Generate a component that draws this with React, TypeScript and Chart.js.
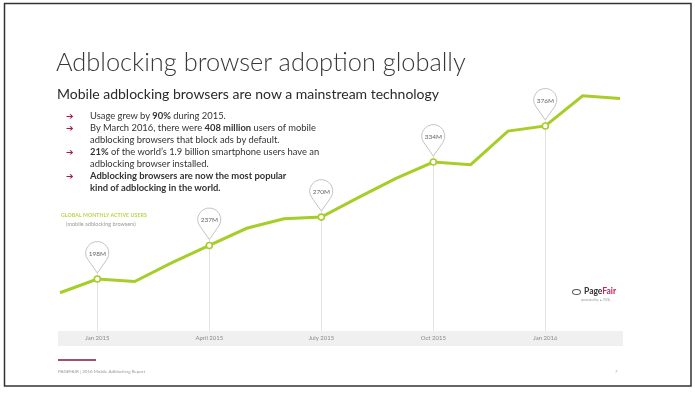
import React, { useEffect, useRef } from "react";
import { Chart, registerables } from "chart.js";

Chart.register(...registerables);

const months = [
  "Dec 2014", "Jan 2015", "Feb 2015", "Mar 2015", "Apr 2015", "May 2015", "Jun 2015",
  "Jul 2015", "Aug 2015", "Sep 2015", "Oct 2015", "Nov 2015", "Dec 2015",
  "Jan 2016", "Feb 2016", "Mar 2016",
];
const usersMillions = [182, 198, 195, 217, 237, 257, 268, 270, 293, 315, 334, 331, 370, 376, 411, 408];
const pinLabels = ["", "198M", "", "", "237M", "", "", "270M", "", "", "334M", "", "", "376M", "", ""];
const tickLabels = ["", "Jan 2015", "", "", "April 2015", "", "", "July 2015", "", "", "Oct 2015", "", "", "Jan 2016", "", ""];

const GREEN = "#a6cd28";
const FONT = "Lato, 'Open Sans', sans-serif";

const slidePlugin = {
  id: "slide",
  beforeDraw(chart: any) {
    const ctx = chart.ctx;
    ctx.save();
    ctx.fillStyle = "#ffffff";
    ctx.fillRect(0, 0, chart.width, chart.height);
    ctx.strokeStyle = "#333";
    ctx.lineWidth = 1.5;
    ctx.strokeRect(4.5, 3.5, 686.5, 382.5);
    ctx.fillStyle = "#f0f0f0";
    ctx.fillRect(58, 331, 565, 15);
    const xs = chart.scales.x;
    const ys = chart.scales.y;
    ctx.strokeStyle = "#e2e2e2";
    ctx.lineWidth = 1;
    pinLabels.forEach((p, i) => {
      if (!p) return;
      const x = Math.round(xs.getPixelForValue(i)) + 0.5;
      const y = ys.getPixelForValue(usersMillions[i]);
      ctx.beginPath();
      ctx.moveTo(x, y - 6);
      ctx.lineTo(x, 331);
      ctx.stroke();
    });
    ctx.fillStyle = "#8a8a8a";
    ctx.font = `6px ${FONT}`;
    ctx.textAlign = "center";
    ctx.textBaseline = "middle";
    tickLabels.forEach((t, i) => {
      if (!t) return;
      ctx.fillText(t, xs.getPixelForValue(i), 338.5);
    });
    ctx.restore();
  },
  afterDatasetsDraw(chart: any) {
    const ctx = chart.ctx;
    const xs = chart.scales.x;
    const ys = chart.scales.y;
    ctx.save();
    const r = 11.5;
    pinLabels.forEach((p, i) => {
      if (!p) return;
      const x = xs.getPixelForValue(i);
      const py = ys.getPixelForValue(usersMillions[i]);
      const cy = py - 26;
      const tipY = py - 6;
      const d = tipY - cy;
      const th = Math.acos(r / d);
      ctx.beginPath();
      ctx.moveTo(x, tipY);
      ctx.lineTo(x + r * Math.cos(Math.PI / 2 - th), cy + r * Math.sin(Math.PI / 2 - th));
      ctx.arc(x, cy, r, Math.PI / 2 - th, Math.PI / 2 + th, true);
      ctx.closePath();
      ctx.fillStyle = "#ffffff";
      ctx.fill();
      ctx.strokeStyle = "#c4c4c4";
      ctx.lineWidth = 1;
      ctx.stroke();
      ctx.fillStyle = "#666";
      ctx.font = `6.5px ${FONT}`;
      ctx.textAlign = "center";
      ctx.textBaseline = "middle";
      ctx.fillText(p, x, cy + 0.5);
    });
    ctx.restore();
  },
};

const bullets: React.ReactNode[] = [
  <>Usage grew by <b>90%</b> during 2015.</>,
  <>By March 2016, there were <b>408 million</b> users of mobile<br />adblocking browsers that block ads by default.</>,
  <><b>21%</b> of the world’s 1.9 billion smartphone users have an<br />adblocking browser installed.</>,
  <><b>Adblocking browsers are now the most popular<br />kind of adblocking in the world.</b></>,
];

export default function App() {
  const ref = useRef<HTMLCanvasElement | null>(null);
  useEffect(() => {
    if (!ref.current) return;
    const chart = new Chart(ref.current, {
      type: "line",
      data: {
        labels: months,
        datasets: [
          {
            data: usersMillions,
            borderColor: GREEN,
            borderWidth: 3,
            tension: 0,
            pointRadius: pinLabels.map((p) => (p ? 3 : 0)),
            pointBackgroundColor: "#ffffff",
            pointBorderColor: GREEN,
            pointBorderWidth: 1.6,
            clip: false as any,
          },
        ],
      },
      options: {
        animation: false,
        responsive: false,
        devicePixelRatio: 1,
        layout: { padding: { left: 60, right: 75, top: 62.3, bottom: 73.7 } },
        plugins: { legend: { display: false }, tooltip: { enabled: false } },
        scales: {
          x: { type: "category", display: false, offset: false },
          y: { type: "linear", display: false, min: 150, max: 450 },
        },
      },
      plugins: [slidePlugin],
    });
    return () => chart.destroy();
  }, []);

  const abs = (s: React.CSSProperties): React.CSSProperties => ({ position: "absolute", whiteSpace: "nowrap", ...s });

  return (
    <div style={{ position: "fixed", left: 0, top: 0, width: 695, height: 394, background: "#fff", overflow: "hidden", fontFamily: FONT }}>
      <canvas ref={ref} width={695} height={394} style={{ position: "absolute", left: 0, top: 0, width: 695, height: 394 }} />
      <div style={abs({ left: 56, top: 46, fontSize: 25.4, fontWeight: 300, color: "#383838", lineHeight: "30px" })}>
        Adblocking browser adoption globally
      </div>
      <div style={abs({ left: 57, top: 86, fontSize: 14, fontWeight: 400, color: "#2a2a2a", lineHeight: "16px" })}>
        Mobile adblocking browsers are now a mainstream technology
      </div>
      <div style={abs({ left: 66, top: 110, width: 280 })}>
        {bullets.map((b, i) => (
          <div key={i} style={{ position: "relative", paddingLeft: 24, fontSize: 9.4, lineHeight: "12px", color: "#333", whiteSpace: "nowrap" }}>
            <span style={{ position: "absolute", left: 0, top: 0, color: "#a3174b", fontFamily: "'DejaVu Sans'", fontWeight: 700, fontSize: 9 }}>➔</span>
            {b}
          </div>
        ))}
      </div>
      <div style={abs({ left: 61, top: 212, fontSize: 5.2, fontWeight: 700, color: "#b8d64a", lineHeight: "7px", letterSpacing: 0.1 })}>
        GLOBAL MONTHLY ACTIVE USERS
      </div>
      <div style={abs({ left: 66, top: 221, fontSize: 5.5, color: "#999", lineHeight: "7px" })}>
        (mobile adblocking browsers)
      </div>
      <div style={abs({ left: 572, top: 286, fontSize: 8.5, fontWeight: 700, lineHeight: "10px", color: "#333" })}>
        <span style={{ display: "inline-block", width: 9, height: 6, border: "1.3px solid #555", borderRadius: "50%", marginRight: 3, verticalAlign: "middle", boxSizing: "border-box" }} />
        Page<span style={{ color: "#c0245a" }}>Fair</span>
      </div>
      <div style={abs({ left: 581, top: 298, fontSize: 3, color: "#999", lineHeight: "4px" })}>
        sponsored by ▲ VIVA
      </div>
      <div style={abs({ left: 58, top: 359, width: 38, height: 1.5, background: "#a34d6b" })} />
      <div style={abs({ left: 58, top: 369, fontSize: 4.5, color: "#999", lineHeight: "6px" })}>
        PAGEFAIR | 2016 Mobile Adblocking Report
      </div>
      <div style={abs({ left: 615, top: 369, fontSize: 4.5, color: "#999", lineHeight: "6px" })}>7</div>
    </div>
  );
}
